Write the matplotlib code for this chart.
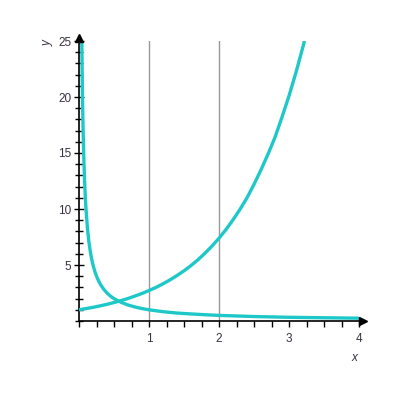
import numpy as np
import matplotlib
matplotlib.use("Agg")
import matplotlib.pyplot as plt
from matplotlib.ticker import MultipleLocator

plt.rcParams["font.family"] = ["Liberation Sans", "DejaVu Sans"]

# growing curve, values
grow_x = [0.0, 0.1, 0.2, 0.3, 0.4, 0.5, 0.6, 0.7, 0.8, 0.9, 1.0, 1.1, 1.2, 1.3,
          1.4, 1.5, 1.6, 1.7, 1.8, 1.9, 2.0, 2.1, 2.2, 2.3, 2.4, 2.5, 2.6, 2.7,
          2.8, 2.9, 3.0, 3.1, 3.2, 3.22]
grow_y = [1.00, 1.11, 1.22, 1.35, 1.49, 1.65, 1.82, 2.01, 2.23, 2.46, 2.72, 3.00,
          3.32, 3.67, 4.06, 4.48, 4.95, 5.47, 6.05, 6.69, 7.39, 8.17, 9.03, 9.97,
          11.0, 12.2, 13.5, 14.9, 16.4, 18.2, 20.1, 22.2, 24.5, 25.0]

# decaying curve
decay_x = [0.04, 0.045, 0.05, 0.055, 0.06, 0.07, 0.08, 0.09, 0.1, 0.12, 0.14,
           0.16, 0.18, 0.2, 0.23, 0.26, 0.3, 0.35, 0.4, 0.45, 0.5, 0.6, 0.7,
           0.8, 0.9, 1.0, 1.2, 1.4, 1.6, 1.8, 2.0, 2.5, 3.0, 3.5, 4.0]
decay_y = [25.0, 22.2, 20.0, 18.2, 16.7, 14.3, 12.5, 11.1, 10.0, 8.33, 7.14,
           6.25, 5.56, 5.00, 4.35, 3.85, 3.33, 2.86, 2.50, 2.22, 2.00, 1.67, 1.43,
           1.25, 1.11, 1.00, 0.83, 0.71, 0.63, 0.56, 0.50, 0.40, 0.33, 0.29, 0.25]

guide_x = [1, 2]
x_ticks = [1, 2, 3, 4]
y_ticks = [5, 10, 15, 20, 25]

curve_color = "#1fc8c8"
text_color = "#3a3040"

fig = plt.figure(figsize=(4, 4), dpi=100)
ax = fig.add_axes([0.1975, 0.1975, 0.7, 0.7])
ax.set_xlim(0, 4)
ax.set_ylim(0, 25)

for gx in guide_x:
    ax.plot([gx, gx], [0, 25], color="#999999", lw=1.0, zorder=1)

ax.plot(grow_x, grow_y, color=curve_color, lw=2.4, solid_capstyle="butt", zorder=3)
ax.plot(decay_x, decay_y, color=curve_color, lw=2.4, solid_capstyle="butt", zorder=3)

# axes drawn as lines through the origin
for side in ["top", "right"]:
    ax.spines[side].set_visible(False)
ax.spines["left"].set_color("black")
ax.spines["bottom"].set_color("black")
ax.spines["left"].set_linewidth(1.2)
ax.spines["bottom"].set_linewidth(1.2)

ax.xaxis.set_minor_locator(MultipleLocator(0.25))
ax.yaxis.set_minor_locator(MultipleLocator(1))
ax.set_xticks(x_ticks)
ax.set_yticks(y_ticks)
ax.set_xticklabels([str(t) for t in x_ticks])
ax.set_yticklabels([str(t) for t in y_ticks])
ax.tick_params(which="both", color="black", width=1.0,
               labelsize=8.5, labelcolor=text_color)
ax.tick_params(axis="y", which="major", direction="inout", length=7, pad=2)
ax.tick_params(axis="y", which="minor", direction="inout", length=6)
ax.tick_params(axis="x", which="both", direction="out", length=4, pad=5)

# arrow heads
ax.plot([4.06], [0], marker=">", color="black", markersize=6, clip_on=False, zorder=5)
ax.plot([0], [25.25], marker="^", color="black", markersize=6, clip_on=False, zorder=5)

ax.text(3.93, -3.3, "x", style="italic", fontsize=8.5, color=text_color,
        ha="center", va="center")
ax.text(-0.45, 24.8, "y", style="italic", fontsize=8.5, color=text_color,
        ha="center", va="center", rotation=90)

fig.savefig("out.png", dpi=100)
